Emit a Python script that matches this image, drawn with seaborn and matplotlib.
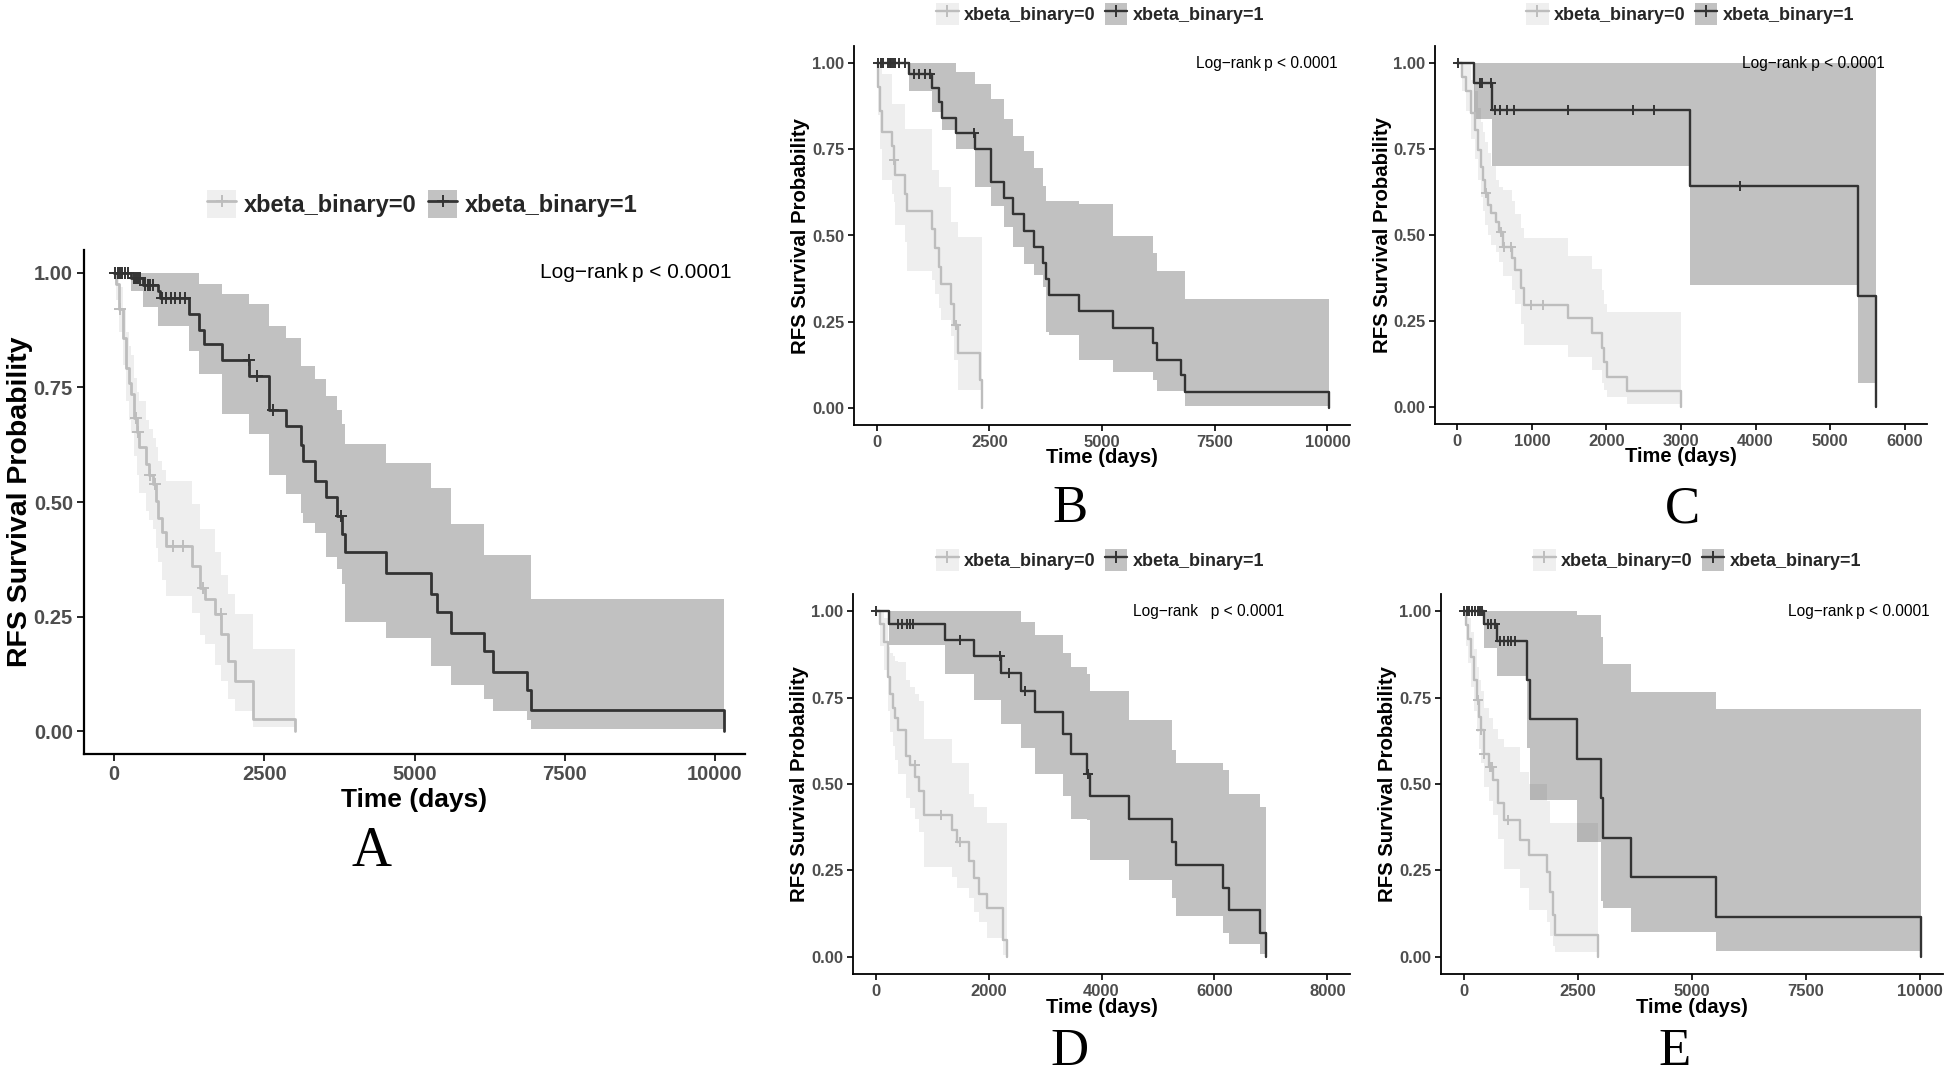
import numpy as np
import matplotlib
matplotlib.use("Agg")
import matplotlib.pyplot as plt
import seaborn as sns
from matplotlib.patches import Patch
from matplotlib.lines import Line2D

# ---------------- data ----------------
# each group: step times, survival, lower / upper 95% band, censor times
# panel A
a0_t = [0, 40, 89, 145, 200, 250, 284, 340, 380, 423, 534, 590, 640, 690, 729, 790, 868, 1290, 1425, 1508, 1675, 1786, 1897, 2009, 2315, 3010]
a0_s = [1.00, 0.975, 0.921, 0.859, 0.793, 0.760, 0.735, 0.684, 0.652, 0.619, 0.582, 0.560, 0.539, 0.502, 0.466, 0.434, 0.404, 0.360, 0.313, 0.288, 0.255, 0.211, 0.153, 0.109, 0.026, 0.0]
a0_lo = [1.00, 0.94, 0.87, 0.80, 0.72, 0.68, 0.65, 0.60, 0.56, 0.52, 0.48, 0.46, 0.44, 0.40, 0.37, 0.33, 0.295, 0.258, 0.21, 0.189, 0.145, 0.109, 0.07, 0.044, 0.008, 0.008]
a0_hi = [1.00, 1.00, 0.97, 0.92, 0.87, 0.84, 0.82, 0.77, 0.74, 0.72, 0.68, 0.66, 0.64, 0.62, 0.59, 0.57, 0.546, 0.495, 0.44, 0.44, 0.39, 0.34, 0.30, 0.255, 0.18, 0.18]
a0_cens = [95, 365, 400, 600, 680, 980, 1150, 1480, 1780]

a1_t = [0, 280, 485, 727, 767, 1252, 1413, 1494, 1793, 2245, 2585, 2868, 3110, 3150, 3352, 3530, 3716, 3796, 3837, 4523, 5275, 5372, 5614, 6163, 6300, 6866, 6947, 10150]
a1_s = [1.00, 0.988, 0.974, 0.960, 0.945, 0.910, 0.875, 0.845, 0.810, 0.775, 0.700, 0.665, 0.625, 0.590, 0.545, 0.510, 0.470, 0.430, 0.390, 0.345, 0.300, 0.260, 0.215, 0.175, 0.130, 0.090, 0.045, 0.0]
a1_lo = [1.00, 0.961, 0.925, 0.884, 0.884, 0.830, 0.779, 0.779, 0.691, 0.648, 0.560, 0.517, 0.477, 0.455, 0.433, 0.380, 0.353, 0.320, 0.239, 0.204, 0.142, 0.142, 0.100, 0.071, 0.043, 0.024, 0.005, 0.005]
a1_hi = [1.00, 1.00, 1.00, 1.00, 1.00, 1.00, 0.975, 0.975, 0.953, 0.932, 0.884, 0.857, 0.797, 0.797, 0.768, 0.732, 0.700, 0.670, 0.626, 0.586, 0.530, 0.530, 0.451, 0.385, 0.385, 0.385, 0.288, 0.288]
a1_cens = [20, 60, 100, 140, 190, 230, 330, 360, 400, 440, 520, 560, 600, 650, 800, 870, 940, 1020, 1100, 1180, 2240, 2380, 2650, 3780]

# panel B
b0_t = [0, 40, 80, 120, 340, 380, 420, 620, 665, 1240, 1300, 1380, 1440, 1660, 1720, 1800, 2290, 2340]
b0_s = [1.00, 0.930, 0.860, 0.800, 0.760, 0.720, 0.675, 0.620, 0.570, 0.520, 0.465, 0.410, 0.360, 0.300, 0.240, 0.160, 0.080, 0.0]
b0_lo = [1.00, 0.850, 0.750, 0.661, 0.620, 0.596, 0.530, 0.480, 0.396, 0.370, 0.330, 0.290, 0.255, 0.207, 0.140, 0.052, 0.052, 0.052]
b0_hi = [1.00, 1.00, 0.985, 0.970, 0.883, 0.883, 0.883, 0.810, 0.810, 0.690, 0.690, 0.640, 0.640, 0.540, 0.540, 0.497, 0.497, 0.497]
b0_cens = [390, 1760]

b1_t = [0, 730, 1234, 1380, 1453, 1761, 2190, 2549, 2817, 3036, 3279, 3490, 3693, 3750, 3815, 4481, 5235, 6120, 6225, 6753, 6834, 10040]
b1_s = [1.00, 0.970, 0.927, 0.887, 0.842, 0.797, 0.750, 0.656, 0.608, 0.561, 0.514, 0.468, 0.421, 0.374, 0.328, 0.280, 0.232, 0.187, 0.140, 0.095, 0.047, 0.0]
b1_lo = [1.00, 0.919, 0.857, 0.857, 0.807, 0.750, 0.641, 0.586, 0.526, 0.466, 0.416, 0.386, 0.350, 0.220, 0.210, 0.140, 0.105, 0.080, 0.050, 0.050, 0.006, 0.006]
b1_hi = [1.00, 1.00, 1.00, 1.00, 1.00, 0.975, 0.940, 0.897, 0.837, 0.790, 0.745, 0.695, 0.645, 0.600, 0.600, 0.590, 0.500, 0.450, 0.396, 0.396, 0.316, 0.316]
b1_cens = [30, 90, 150, 250, 300, 330, 360, 400, 500, 620, 830, 950, 1070, 1190, 2170]

# panel C
c0_t = [0, 60, 120, 188, 232, 277, 312, 344, 375, 411, 455, 522, 554, 612, 732, 777, 857, 893, 1487, 1800, 1935, 1970, 2002, 2270, 3000]
c0_s = [1.00, 0.960, 0.920, 0.854, 0.805, 0.747, 0.699, 0.660, 0.621, 0.587, 0.563, 0.539, 0.510, 0.466, 0.432, 0.398, 0.345, 0.297, 0.258, 0.214, 0.171, 0.130, 0.088, 0.047, 0.0]
c0_lo = [1.00, 0.920, 0.860, 0.780, 0.720, 0.660, 0.610, 0.570, 0.530, 0.500, 0.470, 0.450, 0.420, 0.380, 0.340, 0.300, 0.240, 0.180, 0.145, 0.108, 0.070, 0.050, 0.030, 0.008, 0.008]
c0_hi = [1.00, 1.00, 1.00, 0.950, 0.920, 0.870, 0.830, 0.800, 0.770, 0.740, 0.700, 0.660, 0.640, 0.630, 0.600, 0.560, 0.520, 0.490, 0.440, 0.400, 0.340, 0.300, 0.277, 0.277, 0.277]
c0_cens = [390, 580, 630, 725, 990, 1147]

c1_t = [0, 226, 461, 3118, 5373, 5614]
c1_s = [1.00, 0.942, 0.864, 0.643, 0.322, 0.0]
c1_lo = [1.00, 0.839, 0.700, 0.354, 0.070, 0.070]
c1_hi = [1.00, 1.00, 1.00, 1.00, 1.00, 1.00]
c1_cens = [10, 300, 330, 450, 510, 570, 660, 760, 1490, 2350, 2640, 3790]

# panel D
d0_t = [0, 85, 150, 214, 260, 300, 344, 396, 540, 604, 702, 777, 864, 1352, 1449, 1657, 1741, 1826, 1969, 2261, 2320]
d0_s = [1.00, 0.962, 0.910, 0.810, 0.760, 0.720, 0.690, 0.655, 0.580, 0.555, 0.520, 0.480, 0.410, 0.366, 0.331, 0.276, 0.227, 0.182, 0.142, 0.047, 0.0]
d0_lo = [1.00, 0.900, 0.830, 0.710, 0.650, 0.610, 0.570, 0.530, 0.460, 0.430, 0.400, 0.360, 0.260, 0.230, 0.200, 0.170, 0.130, 0.100, 0.053, 0.005, 0.005]
d0_hi = [1.00, 1.00, 0.980, 0.897, 0.880, 0.870, 0.856, 0.853, 0.800, 0.780, 0.760, 0.740, 0.630, 0.560, 0.560, 0.470, 0.434, 0.434, 0.386, 0.386, 0.386]
d0_cens = [700, 1150, 1500]

d1_t = [0, 234, 1222, 1741, 2229, 2567, 2826, 3314, 3463, 3743, 3788, 4483, 5250, 5315, 6147, 6257, 6810, 6907]
d1_s = [1.00, 0.964, 0.917, 0.871, 0.821, 0.768, 0.709, 0.644, 0.587, 0.528, 0.465, 0.399, 0.331, 0.266, 0.200, 0.134, 0.068, 0.0]
d1_lo = [1.00, 0.903, 0.818, 0.744, 0.675, 0.605, 0.530, 0.465, 0.400, 0.395, 0.281, 0.222, 0.170, 0.117, 0.070, 0.038, 0.008, 0.008]
d1_hi = [1.00, 1.00, 1.00, 1.00, 1.00, 0.970, 0.930, 0.880, 0.840, 0.818, 0.768, 0.684, 0.597, 0.560, 0.540, 0.470, 0.433, 0.433]
d1_cens = [10, 400, 470, 550, 615, 670, 1500, 2210, 2370, 2650, 3760]

# panel E
e0_t = [0, 40, 90, 159, 220, 283, 330, 377, 450, 543, 630, 739, 884, 1240, 1427, 1826, 1899, 1950, 2007, 2935]
e0_s = [1.00, 0.960, 0.920, 0.868, 0.800, 0.742, 0.694, 0.655, 0.588, 0.550, 0.511, 0.444, 0.395, 0.338, 0.294, 0.246, 0.188, 0.120, 0.063, 0.0]
e0_lo = [1.00, 0.900, 0.850, 0.780, 0.710, 0.650, 0.600, 0.560, 0.490, 0.450, 0.410, 0.340, 0.255, 0.200, 0.135, 0.100, 0.060, 0.030, 0.013, 0.013]
e0_hi = [1.00, 1.00, 0.980, 0.940, 0.890, 0.840, 0.800, 0.770, 0.720, 0.690, 0.660, 0.630, 0.607, 0.535, 0.500, 0.450, 0.386, 0.386, 0.386, 0.386]
e0_cens = [310, 380, 450, 570, 610, 970]

e1_t = [0, 433, 720, 1390, 1450, 2478, 3009, 3050, 3663, 5519, 10016]
e1_s = [1.00, 0.962, 0.915, 0.800, 0.687, 0.573, 0.460, 0.344, 0.231, 0.114, 0.0]
e1_lo = [1.00, 0.893, 0.813, 0.604, 0.455, 0.333, 0.160, 0.141, 0.072, 0.018, 0.018]
e1_hi = [1.00, 1.00, 1.00, 1.00, 1.00, 0.990, 0.926, 0.847, 0.765, 0.716, 0.716]
e1_cens = [10, 60, 120, 180, 240, 300, 360, 400, 520, 600, 680, 800, 880, 960, 1040, 1130]

group_labels = ["xbeta_binary=0", "xbeta_binary=1"]
y_ticks = [0.0, 0.25, 0.50, 0.75, 1.00]
y_ticklabels = ["0.00", "0.25", "0.50", "0.75", "1.00"]
x_ticks_10k = [0, 2500, 5000, 7500, 10000]
x_ticks_c = [0, 1000, 2000, 3000, 4000, 5000, 6000]
x_ticks_d = [0, 2000, 4000, 6000, 8000]

# ---------------- styling ----------------
W, H = 1946, 1078
LINE0, LINE1 = "#BDBDBD", "#333333"
BAND0, BAND1 = "#EFEFEF", "#C2C2C2"

sns.set_theme(style="white")
plt.rcParams["font.family"] = ["Liberation Sans", "DejaVu Sans"]


def step_at(t, s, c):
    idx = np.searchsorted(t, c, side="right") - 1
    return np.asarray(s)[idx]


def km_panel(fig, box, groups, xlim, xticks, big, pval, pval_x, leg_xy, letter, letter_xy):
    l, t, r, b = box
    ax = fig.add_axes([l / W, 1 - b / H, (r - l) / W, (b - t) / H])
    lw = 2.0 if big else 1.7
    fs_tick = 14.5 if big else 12
    fs_lab_x = 19 if big else 14.5
    fs_lab_y = 20.5 if big else 14.7
    fs_leg = 17 if big else 13
    fs_p = 15 if big else 11.2

    for (tt, ss, lo, hi, cens), col, alpha in zip(groups, [LINE0, LINE1], [0.25, 0.30]):
        ax.fill_between(tt, lo, hi, step="post", color=col, alpha=alpha, lw=0, zorder=1)
    for (tt, ss, lo, hi, cens), col in zip(groups, [LINE0, LINE1]):
        sns.lineplot(x=tt, y=ss, drawstyle="steps-post", color=col, lw=lw,
                     estimator=None, sort=False, ax=ax, zorder=3)
        sns.scatterplot(x=cens, y=step_at(tt, ss, cens), marker="+", s=75 if big else 50,
                        color=col, linewidth=1.4, ax=ax, zorder=4, legend=False)

    ax.set_xlim(*xlim)
    ax.set_ylim(-0.05, 1.05)
    ax.set_xticks(xticks)
    ax.set_xticklabels([str(v) for v in xticks])
    ax.set_yticks(y_ticks)
    ax.set_yticklabels(y_ticklabels)
    for sp in ["top", "right"]:
        ax.spines[sp].set_visible(False)
    for sp in ["left", "bottom"]:
        ax.spines[sp].set_color("black")
        ax.spines[sp].set_linewidth(1.6 if big else 1.3)
    ax.tick_params(axis="both", direction="out", length=5 if big else 4, width=1.2,
                   color="black", pad=3, labelsize=fs_tick, labelcolor="#4D4D4D",
                   left=True, bottom=True)
    for lab in ax.get_xticklabels() + ax.get_yticklabels():
        lab.set_fontweight("bold")
    ax.set_xlabel("Time (days)", fontsize=fs_lab_x, fontweight="bold", color="black")
    ax.set_ylabel("RFS Survival Probability", fontsize=fs_lab_y, fontweight="bold", color="black")
    ax.xaxis.set_label_coords(0.5, -0.068 if big else -0.062)
    ax.yaxis.set_label_coords(-0.077 if big else -0.088, 0.5)

    ax.text(pval_x, 1.0, pval, transform=ax.get_yaxis_transform(), ha="right", va="center",
            fontsize=fs_p, color="black")

    mlw = 2.0 if big else 1.7
    handles = [(Patch(fc=BAND0, ec="none"), Line2D([], [], color=LINE0, lw=mlw, marker="+", ms=9, mew=1.4)),
               (Patch(fc=BAND1, ec="none"), Line2D([], [], color=LINE1, lw=mlw, marker="+", ms=9, mew=1.4))]
    fig.legend(handles, group_labels, loc="center", bbox_to_anchor=(leg_xy[0] / W, 1 - leg_xy[1] / H),
               ncol=2, frameon=False, prop=dict(weight="bold", size=fs_leg),
               handlelength=1.25, handleheight=1.5, columnspacing=0.5, handletextpad=0.3)

    fig.text(letter_xy[0] / W, 1 - letter_xy[1] / H, letter, ha="center", va="center",
             fontsize=40 if big else 38, family=["Liberation Serif", "DejaVu Serif"], color="black")
    return ax


fig = plt.figure(figsize=(W / 100, H / 100), dpi=100)
fig.patch.set_facecolor("white")

km_panel(fig, (84, 250, 745, 754),
         [(a0_t, a0_s, a0_lo, a0_hi, a0_cens), (a1_t, a1_s, a1_lo, a1_hi, a1_cens)],
         (-500, 10500), x_ticks_10k, True, "Log\u2212rank\u2009p < 0.0001", 0.98,
         (422, 204), "A", (372, 852))
km_panel(fig, (854, 46, 1350, 425),
         [(b0_t, b0_s, b0_lo, b0_hi, b0_cens), (b1_t, b1_s, b1_lo, b1_hi, b1_cens)],
         (-500, 10500), x_ticks_10k, False, "Log\u2212rank\u2009p < 0.0001", 0.976,
         (1100, 14), "B", (1070, 509))
km_panel(fig, (1435, 46, 1927, 424),
         [(c0_t, c0_s, c0_lo, c0_hi, c0_cens), (c1_t, c1_s, c1_lo, c1_hi, c1_cens)],
         (-300, 6300), x_ticks_c, False, "Log\u2212rank p < 0.0001", 0.915,
         (1690, 14), "C", (1682, 509))
km_panel(fig, (853, 594, 1350, 974),
         [(d0_t, d0_s, d0_lo, d0_hi, d0_cens), (d1_t, d1_s, d1_lo, d1_hi, d1_cens)],
         (-400, 8400), x_ticks_d, False, "Log\u2212rank   p < 0.0001", 0.867,
         (1100, 560), "D", (1070, 1052))
km_panel(fig, (1441, 594, 1943, 974),
         [(e0_t, e0_s, e0_lo, e0_hi, e0_cens), (e1_t, e1_s, e1_lo, e1_hi, e1_cens)],
         (-500, 10500), x_ticks_10k, False, "Log\u2212rank\u2009p < 0.0001", 0.974,
         (1697, 560), "E", (1675, 1052))

fig.savefig("out.png", dpi=100, facecolor="white")
